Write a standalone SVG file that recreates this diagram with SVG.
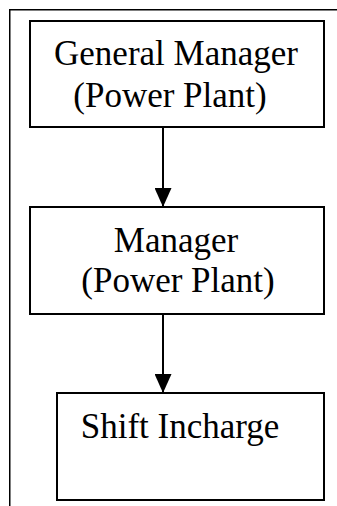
<svg xmlns="http://www.w3.org/2000/svg" width="337" height="506" viewBox="0 0 337 506">
<defs>
<style>
.box{fill:#fff;stroke:#000;stroke-width:2}
.t{font-family:"Liberation Serif","Times New Roman",serif;font-size:35px;fill:#000;text-anchor:middle}
.c{stroke:#000;stroke-width:2;fill:none}
.frame{stroke:#000;stroke-width:1.5;fill:none}
</style>
<marker id="ah" markerWidth="19" markerHeight="17" refX="19" refY="8.5" orient="auto" markerUnits="userSpaceOnUse" viewBox="0 0 19 17">
<path d="M0,0 L19,8.5 L0,17 Z" fill="#000"/>
</marker>
</defs>
<path class="frame" d="M9.75,506 V9.75 H337"/>
<g id="n1"><rect class="box" x="30" y="21" width="294" height="106"/>
<text class="t" x="176" y="65">General Manager</text>
<text class="t" x="170" y="107">(Power Plant)</text></g>
<g id="n2"><rect class="box" x="30" y="207" width="294" height="107"/>
<text class="t" x="176" y="252">Manager</text>
<text class="t" x="178" y="292">(Power Plant)</text></g>
<g id="n3"><rect class="box" x="57" y="393" width="267" height="107"/>
<text class="t" x="180" y="438">Shift Incharge</text></g>
<g id="connectors">
<line class="c" x1="163" y1="127" x2="163" y2="207" marker-end="url(#ah)"/>
<line class="c" x1="163" y1="314" x2="163" y2="393" marker-end="url(#ah)"/>
</g>
</svg>
